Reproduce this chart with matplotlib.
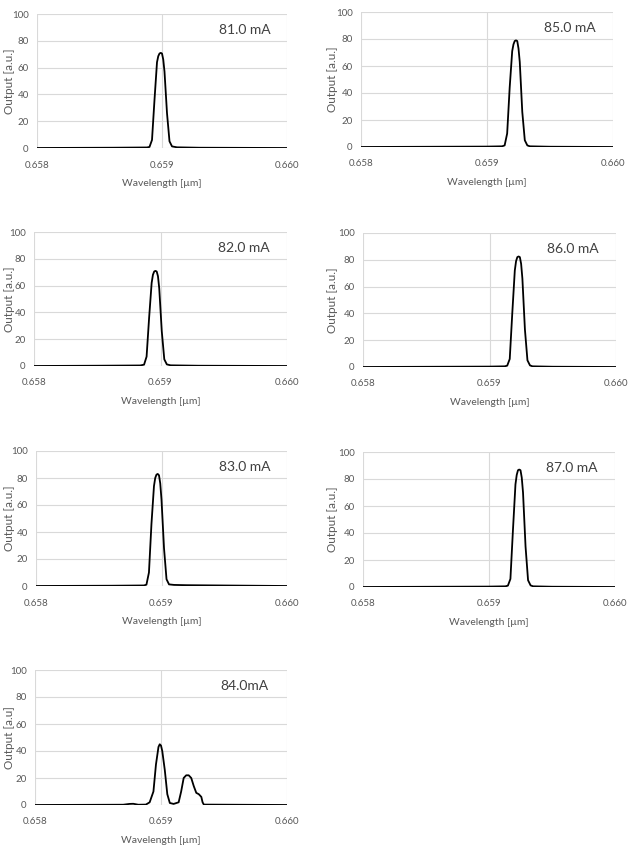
import matplotlib
matplotlib.use("Agg")
import matplotlib.pyplot as plt

plt.rcParams["font.family"] = ["Lato", "DejaVu Sans"]

# spectra (wavelength in um, output in a.u.)
wl_81 = [0.6580, 0.6586, 0.65888, 0.65890, 0.65892, 0.65894, 0.65896, 0.65897, 0.65898, 0.65899, 0.65900, 0.65901, 0.65902, 0.65904, 0.65906, 0.65908, 0.65912, 0.6593, 0.6600]
out_81 = [0.0, 0.2, 0.4, 0.8, 6, 36, 64, 68.5, 70.5, 71, 70.5, 66, 57, 26, 5, 1.2, 0.5, 0.2, 0.0]

wl_82 = [0.6580, 0.6585, 0.65884, 0.65887, 0.65889, 0.65891, 0.65893, 0.65894, 0.65895, 0.65896, 0.65897, 0.65898, 0.65899, 0.65901, 0.65903, 0.65905, 0.65908, 0.6593, 0.6600]
out_82 = [0.0, 0.2, 0.4, 1.0, 7, 36, 62, 68, 70.5, 71, 70.5, 67, 58, 26, 5, 1.2, 0.5, 0.2, 0.0]

wl_83 = [0.6580, 0.6586, 0.65886, 0.65888, 0.65890, 0.65892, 0.65894, 0.65895, 0.65896, 0.65897, 0.65898, 0.65899, 0.65900, 0.65902, 0.65904, 0.65906, 0.65910, 0.6592, 0.6600]
out_83 = [0.0, 0.2, 0.4, 1.0, 10, 46, 74, 80, 82.5, 83, 82, 76, 64, 28, 5, 1.2, 0.8, 0.6, 0.0]

wl_84 = [0.6580, 0.6587, 0.65875, 0.65878, 0.65882, 0.65888, 0.65891, 0.65894, 0.65896, 0.65898, 0.65899, 0.65900, 0.65901, 0.65903, 0.65905, 0.65907,
         0.65910, 0.65914, 0.65916, 0.65918, 0.65920, 0.65922, 0.65924, 0.65926, 0.65928, 0.65930, 0.65932, 0.65933, 0.65934, 0.6600]
out_84 = [0.0, 0.2, 0.8, 0.9, 0.2, 0.3, 2, 10, 30, 43, 45, 44, 40, 26, 8, 1.5,
          0.8, 2, 10, 20, 22, 22, 20, 14, 9, 8, 6, 2, 0.3, 0.0]

wl_85 = [0.6580, 0.6590, 0.65912, 0.65914, 0.65916, 0.65918, 0.65920, 0.65921, 0.65922, 0.65923, 0.65924, 0.65925, 0.65926, 0.65928, 0.65930, 0.65932, 0.65934, 0.6595, 0.6600]
out_85 = [0.0, 0.3, 0.5, 1.2, 10, 44, 71, 76, 78.5, 79, 78.5, 73, 63, 26, 5, 1.2, 0.5, 0.2, 0.0]

wl_86 = [0.6580, 0.6590, 0.65912, 0.65914, 0.65916, 0.65918, 0.65920, 0.65921, 0.65922, 0.65923, 0.65924, 0.65925, 0.65926, 0.65928, 0.65930, 0.65932, 0.65934, 0.6595, 0.6600]
out_86 = [0.0, 0.3, 0.5, 1.0, 6, 40, 72, 79, 82, 82.5, 82, 77, 66, 28, 5, 1.2, 0.5, 0.2, 0.0]

wl_87 = [0.6580, 0.6590, 0.65913, 0.65915, 0.65917, 0.65919, 0.65921, 0.65922, 0.65923, 0.65924, 0.65925, 0.65926, 0.65927, 0.65929, 0.65931, 0.65933, 0.65935, 0.6595, 0.6600]
out_87 = [0.0, 0.3, 0.5, 1.0, 6, 42, 76, 83, 86.5, 87, 86.5, 81, 70, 30, 5, 1.2, 0.5, 0.2, 0.0]

labels = ["81.0 mA", "82.0 mA", "83.0 mA", "84.0mA", "85.0 mA", "86.0 mA", "87.0 mA"]
ylabels = ["Output [a.u.]"] * 3 + ["Output [a.u]"] + ["Output [a.u.]"] * 3
spectra = [(wl_81, out_81), (wl_82, out_82), (wl_83, out_83), (wl_84, out_84),
           (wl_85, out_85), (wl_86, out_86), (wl_87, out_87)]

x_ticks = [0.658, 0.659, 0.660]
x_ticklabels = ["0.658", "0.659", "0.660"]
y_ticks = [0, 20, 40, 60, 80, 100]

boxes = [(37, 14, 287, 148), (34, 232, 287, 366), (36, 451, 287, 586), (35, 670, 287, 805),
         (361, 12, 613, 147), (363, 233, 616, 367), (363, 452, 615, 587)]

W, H = 630, 849
fig = plt.figure(figsize=(W / 100, H / 100), dpi=100)
fig.patch.set_facecolor("white")

grey_txt = "#595959"
for (wl, out), lab, ylab, (l, t, r, b) in zip(spectra, labels, ylabels, boxes):
    ax = fig.add_axes([l / W, 1 - b / H, (r - l) / W, (b - t) / H])
    ax.plot(wl, out, color="black", lw=1.3, solid_joinstyle="round", zorder=3)
    ax.set_xlim(0.658, 0.660)
    ax.set_ylim(0, 100)
    ax.set_xticks(x_ticks)
    ax.set_xticklabels(x_ticklabels)
    ax.set_yticks(y_ticks)
    ax.grid(True, color="#d9d9d9", lw=0.8, zorder=0)
    for s in ax.spines.values():
        s.set_visible(False)
    ax.tick_params(axis="x", length=0, labelsize=7, colors=grey_txt, pad=9)
    ax.tick_params(axis="y", length=0, labelsize=7, colors=grey_txt, pad=6)
    ax.set_xlabel("Wavelength [µm]", fontsize=7.5, color=grey_txt, labelpad=7)
    ax.set_ylabel(ylab, fontsize=8.5, color=grey_txt)
    label_x = 15 if l < W / 2 else 338
    ax.yaxis.set_label_coords((label_x - l) / (r - l), 0.5)
    ax.text(0.83, 0.88, lab, transform=ax.transAxes, ha="center", va="center",
            fontsize=10, color="#404040")

fig.savefig("out.png", dpi=100, facecolor="white")
